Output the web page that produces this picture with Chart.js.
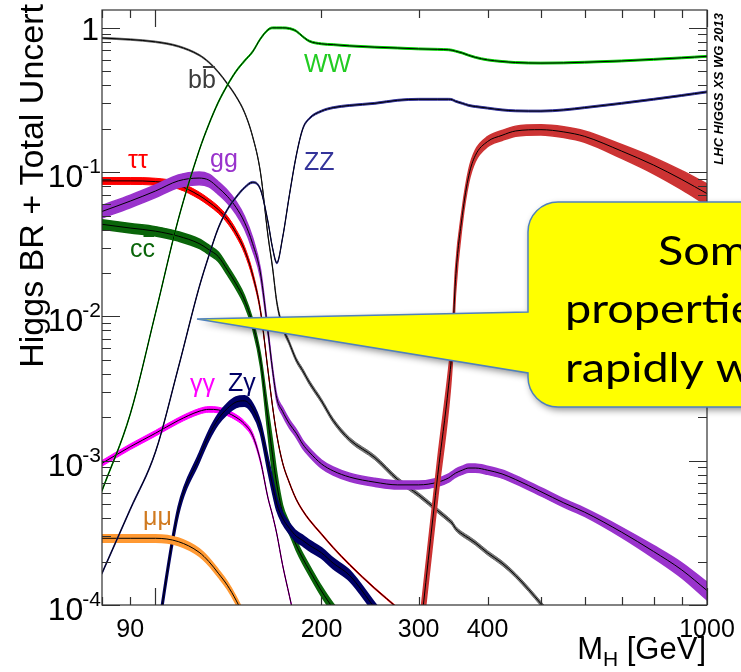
<!DOCTYPE html>
<html><head><meta charset="utf-8">
<script src="https://cdn.jsdelivr.net/npm/chart.js@4.4.1/dist/chart.umd.min.js"></script>
<style>html,body{margin:0;padding:0;background:#fff;overflow:hidden}canvas{display:block}</style>
</head><body><canvas id="c" width="741" height="672"></canvas>
<script>
// Higgs mass grid [GeV]
const MH = [80,90,100,110,120,125,130,135,140,145,
            150,155,160,163,166,170,175,180,185,190,
            200,210,225,250,275,300,325,340,345,350,
            360,370,380,400,425,450,500,550,600,700,
            800,900,1000];

// Branching ratios (central values)
const BR_bb = [0.85,0.83,0.80,0.745,0.648,0.577,0.494,0.41,0.335,0.26,
  0.177,0.10,0.036,0.022,0.0125,0.0085,0.0065,0.0050,0.0042,0.0035,
  0.0026,0.0019,0.0014,0.00105,0.00074,0.00058,0.00045,0.00039,0.00037,0.00034,
  0.00031,0.00029,0.00027,0.00023,0.000195,0.00016,0.000102,0.000065,0.00004,null,
  null,null,null];
const BR_tautau = [0.087,0.087,0.086,0.081,0.069,0.062,0.055,0.047,0.038,0.029,
  0.0195,0.011,0.0042,0.0024,0.0015,0.00097,0.0007,0.00054,0.00045,0.00039,
  0.00031,0.00025,0.00019,0.00013,0.000095,0.00007,0.00005,null,null,null,
  null,null,null,null,null,null,null,null,null,null,
  null,null,null];
const BR_cc = [0.0435,0.041,0.039,0.036,0.032,0.029,0.026,0.021,0.0168,0.013,
  0.0089,0.005,0.0019,0.0011,0.00068,0.00044,0.00034,0.00026,0.00021,0.000175,
  0.000125,0.000095,0.00007,0.00005,null,null,null,null,null,null,
  null,null,null,null,null,null,null,null,null,null,
  null,null,null];
const BR_gg = [0.0534,0.063,0.074,0.087,0.091,0.088,0.078,0.068,0.057,0.045,
  0.032,0.020,0.0078,0.0043,0.0027,0.0022,0.0018,0.00155,0.0013,0.00115,
  0.00095,0.00085,0.00077,0.00071,0.00068,0.00068,0.00071,0.00076,0.00079,0.00082,
  0.00086,0.00089,0.00089,0.00086,0.00081,0.00074,0.00061,0.00051,0.00044,0.00032,
  0.000235,0.000175,0.000126];
const BR_gamgam = [0.00096,0.00125,0.00155,0.0019,0.0022,0.00227,0.00225,0.00215,0.002,0.0018,
  0.0015,0.001,0.00055,0.00042,0.00031,0.00019,0.000115,0.00007,0.00004,null,
  null,null,null,null,null,null,null,null,null,null,
  null,null,null,null,null,null,null,null,null,null,
  null,null,null];
const BR_Zgam = [null,null,0.00005,0.00045,0.00105,0.0015,0.00195,0.0023,0.00255,0.0026,
  0.0023,0.0017,0.00095,0.00068,0.0005,0.0004,0.00034,0.0003,0.00028,0.00026,
  0.00023,0.000195,0.00016,0.000095,0.00006,null,null,null,null,null,
  null,null,null,null,null,null,null,null,null,null,
  null,null,null];
const BR_mumu = [0.00029,0.00029,0.00029,0.000275,0.000232,0.0002,0.000166,0.000137,0.000108,0.000082,
  0.00006,null,null,null,null,null,null,null,null,null,
  null,null,null,null,null,null,null,null,null,null,
  null,null,null,null,null,null,null,null,null,null,
  null,null,null];
const BR_WW = [0.00062,0.0021,0.0105,0.047,0.141,0.215,0.305,0.40,0.50,0.59,
  0.683,0.84,0.97,1.0,1.0,1.0,0.99,0.95,0.87,0.81,
  0.775,0.765,0.75,0.735,0.725,0.715,0.71,0.705,0.70,0.69,
  0.67,0.645,0.625,0.60,0.585,0.575,0.57,0.572,0.578,0.59,
  0.605,0.62,0.635];
const BR_ZZ = [0.000166,0.00046,0.00115,0.0044,0.0159,0.0264,0.041,0.055,0.067,0.078,
  0.085,0.076,0.045,0.03,0.0235,0.035,0.07,0.13,0.2,0.235,
  0.265,0.28,0.29,0.30,0.315,0.32,0.32,0.32,0.318,0.31,
  0.30,0.29,0.285,0.278,0.27,0.266,0.265,0.27,0.28,0.30,
  0.32,0.34,0.36];
const BR_tt = [null,null,null,null,null,null,null,null,null,null,
  null,null,null,null,null,null,null,null,null,null,
  null,null,null,null,null,0.00005,0.0008,0.0033,0.006,0.018,
  0.05,0.095,0.13,0.163,0.18,0.193,0.197,0.19,0.177,0.14,
  0.112,0.089,0.071];

// Relative total uncertainties
const U_bb = [0.012,0.012,0.012,0.012,0.012,0.012,0.012,0.012,0.012,0.012,
  0.012,0.012,0.015,0.02,0.03,0.035,0.035,0.035,0.035,0.035,
  0.035,0.035,0.035,0.035,0.035,0.035,0.035,0.035,0.035,0.035,
  0.035,0.035,0.035,0.035,0.035,0.035,0.035,0.035,0.035,0.035,
  0.035,0.035,0.035];
const U_tautau = [0.055,0.055,0.055,0.055,0.055,0.055,0.055,0.055,0.055,0.055,
  0.05,0.03,0.012,0.012,0.012,0.012,0.012,0.012,0.012,0.012,
  0.012,0.012,0.012,0.012,0.012,0.012,0.012,0.012,0.012,0.012,
  0.012,0.012,0.012,0.012,0.012,0.012,0.012,0.012,0.012,0.012,
  0.012,0.012,0.012];
const U_cc = [0.075,0.075,0.075,0.075,0.075,0.075,0.075,0.075,0.075,0.075,
  0.075,0.1,0.2,0.25,0.2,0.12,0.09,0.08,0.08,0.08,
  0.08,0.08,0.08,0.08,0.08,0.08,0.08,0.08,0.08,0.08,
  0.08,0.08,0.08,0.08,0.08,0.08,0.08,0.08,0.08,0.08,
  0.08,0.08,0.08];
const U_gg = [0.10,0.10,0.10,0.10,0.10,0.10,0.10,0.10,0.10,0.10,
  0.10,0.07,0.03,0.03,0.05,0.065,0.065,0.065,0.065,0.065,
  0.065,0.065,0.065,0.065,0.065,0.065,0.065,0.065,0.065,0.065,
  0.065,0.065,0.065,0.065,0.065,0.065,0.065,0.065,0.065,0.08,
  0.10,0.12,0.14];
const U_gamgam = [0.045,0.045,0.045,0.045,0.045,0.045,0.045,0.045,0.045,0.045,
  0.045,0.03,0.012,0.012,0.012,0.012,0.012,0.012,0.012,0.012,
  0.012,0.012,0.012,0.012,0.012,0.012,0.012,0.012,0.012,0.012,
  0.012,0.012,0.012,0.012,0.012,0.012,0.012,0.012,0.012,0.012,
  0.012,0.012,0.012];
const U_Zgam = [0.06,0.06,0.06,0.06,0.065,0.07,0.075,0.08,0.08,0.08,
  0.08,0.08,0.1,0.1,0.09,0.08,0.08,0.08,0.08,0.08,
  0.08,0.08,0.08,0.08,0.08,0.08,0.08,0.08,0.08,0.08,
  0.08,0.08,0.08,0.08,0.08,0.08,0.08,0.08,0.08,0.08,
  0.08,0.08,0.08];
const U_mumu = [0.06,0.06,0.06,0.06,0.06,0.06,0.06,0.06,0.06,0.06,
  0.06,0.06,0.06,0.06,0.06,0.06,0.06,0.06,0.06,0.06,
  0.06,0.06,0.06,0.06,0.06,0.06,0.06,0.06,0.06,0.06,
  0.06,0.06,0.06,0.06,0.06,0.06,0.06,0.06,0.06,0.06,
  0.06,0.06,0.06];
const U_WW = [0.015,0.015,0.015,0.015,0.015,0.015,0.015,0.015,0.015,0.015,
  0.015,0.015,0.015,0.015,0.015,0.015,0.015,0.015,0.015,0.015,
  0.015,0.015,0.015,0.015,0.015,0.015,0.015,0.015,0.015,0.015,
  0.015,0.015,0.015,0.015,0.015,0.015,0.015,0.015,0.015,0.015,
  0.015,0.015,0.015];
const U_ZZ = U_WW;
const U_tt = [null,null,null,null,null,null,null,null,null,null,
  null,null,null,null,null,null,null,null,null,null,
  null,null,null,null,null,0.3,0.3,0.3,0.25,0.2,
  0.12,0.1,0.09,0.08,0.08,0.08,0.08,0.085,0.09,0.11,
  0.13,0.15,0.17];

// Axis ticks and labels
const X_MAJOR = [100, 1000];
const X_MINOR = [80, 90, 200, 300, 400, 500, 600, 700, 800, 900];
const X_LABELS = [90, 200, 300, 400, 1000];
const Y_DECADES = [-4, -3, -2, -1, 0];

// Callout text lines
const NOTE_LINES = ['Some', 'properties', 'rapidly with'];

// Channel styles, listed from back to front
const CHANNELS = [
  {br: BR_bb,     u: U_bb,     band: '#6e6e6e', edge: 1},
  {br: BR_tautau, u: U_tautau, band: '#ff0000', edge: 1},
  {br: BR_cc,     u: U_cc,     band: '#0a650a', edge: 1.5},
  {br: BR_gg,     u: U_gg,     band: '#9933cc', edge: 1.5},
  {br: BR_gamgam, u: U_gamgam, band: '#ff00ff', edge: 1},
  {br: BR_Zgam,   u: U_Zgam,   band: '#000066', edge: 2},
  {br: BR_mumu,   u: U_mumu,   band: '#ff9933', edge: 1.5},
  {br: BR_tt,     u: U_tt,     band: '#cc3333', edge: 1.5},
  {br: BR_WW,     u: U_WW,     band: '#00cc00', edge: 1},
  {br: BR_ZZ,     u: U_ZZ,     band: '#333399', edge: 1}
];

const pts = (arr, f) => MH.map((m, i) => ({x: m, y: arr[i] == null ? null : arr[i] * f(i)}));
const datasets = [];
CHANNELS.forEach(c => {
  const common = {pointRadius: 0, cubicInterpolationMode: 'monotone', clip: 0, spanGaps: false};
  datasets.push(Object.assign({data: pts(c.br, i => 1 - c.u[i]), borderColor: c.band, borderWidth: c.edge, fill: false}, common));
  datasets.push(Object.assign({data: pts(c.br, i => 1 + c.u[i]), borderColor: c.band, borderWidth: c.edge, backgroundColor: c.band, fill: '-1'}, common));
  datasets.push(Object.assign({data: pts(c.br, () => 1), borderColor: '#000', borderWidth: 1, fill: false}, common));
});
const N = datasets.length;
datasets.forEach((d, i) => { d.order = N - i; });

const AX = '#303030';
const LABEL_FONT = 'Liberation Sans, Arial, sans-serif';

function sup(ctx, xr, yc, exp) {
  ctx.textAlign = 'left';
  ctx.textBaseline = 'alphabetic';
  ctx.font = '21px ' + LABEL_FONT;
  const ws = ctx.measureText(exp).width;
  ctx.fillText(exp, xr - ws, yc + 1);
  ctx.font = '32px ' + LABEL_FONT;
  const wb = ctx.measureText('10').width;
  ctx.fillText('10', xr - ws - wb + 1, yc + 15);
}

function barText(ctx, text, x, y, barIdx) {
  ctx.fillText(text, x, y);
  let x0 = x;
  for (let i = 0; i < barIdx; i++) x0 += ctx.measureText(text[i]).width;
  const w = ctx.measureText(text[barIdx]).width;
  ctx.fillRect(x0 + 1, y - 22, w - 2, 2);
}

const decor = {
  id: 'decor',
  afterDatasetsDraw(chart) {
    const {ctx, chartArea: a, scales: {x, y}} = chart;
    ctx.save();
    // frame
    ctx.strokeStyle = AX; ctx.lineWidth = 1.2;
    ctx.strokeRect(a.left, a.top, a.right - a.left, a.bottom - a.top);
    ctx.beginPath();
    const xt = (v, L) => {
      const p = Math.round(x.getPixelForValue(v)) + 0.5;
      ctx.moveTo(p, a.bottom); ctx.lineTo(p, a.bottom - L);
      ctx.moveTo(p, a.top); ctx.lineTo(p, a.top + L);
    };
    X_MAJOR.forEach(v => xt(v, 17));
    X_MINOR.forEach(v => xt(v, 8));
    const yt = (v, L) => {
      const p = Math.round(y.getPixelForValue(v)) + 0.5;
      if (p < a.top || p > a.bottom + 1) return;
      ctx.moveTo(a.left, p); ctx.lineTo(a.left + L, p);
      ctx.moveTo(a.right, p); ctx.lineTo(a.right - L, p);
    };
    Y_DECADES.forEach(e => {
      yt(Math.pow(10, e), 18);
      for (let k = 2; k <= 9; k++) yt(k * Math.pow(10, e), 9);
    });
    ctx.stroke();

    // tick labels
    ctx.fillStyle = '#000';
    ctx.font = '25px ' + LABEL_FONT;
    ctx.textAlign = 'center'; ctx.textBaseline = 'alphabetic';
    X_LABELS.forEach(v => ctx.fillText(String(v), x.getPixelForValue(v), 637));
    Y_DECADES.forEach(e => {
      const p = y.getPixelForValue(Math.pow(10, e));
      if (e === 0) {
        ctx.font = '32px ' + LABEL_FONT; ctx.textAlign = 'right';
        ctx.fillText('1', 99, p + 12);
      } else {
        sup(ctx, 101, p, '-' + (-e));
      }
    });

    // axis titles
    ctx.font = '34px ' + LABEL_FONT;
    ctx.save(); ctx.translate(43, 4); ctx.rotate(-Math.PI / 2);
    ctx.textAlign = 'right'; ctx.fillText('Higgs BR + Total Uncert', 0, 0);
    ctx.restore();
    ctx.textAlign = 'left';
    const big = '31px ' + LABEL_FONT, small = '21px ' + LABEL_FONT;
    ctx.font = big;
    const t1 = 'M', t3 = ' [GeV]';
    const w1 = ctx.measureText(t1).width, w3 = ctx.measureText(t3).width;
    ctx.font = small;
    const w2 = ctx.measureText('H').width;
    const xs = 706 - w1 - w2 - w3;
    ctx.font = big; ctx.fillText(t1, xs, 659);
    ctx.font = small; ctx.fillText('H', xs + w1, 666);
    ctx.font = big; ctx.fillText(t3, xs + w1 + w2, 659);

    // working group tag
    ctx.save(); ctx.translate(723, 13); ctx.rotate(-Math.PI / 2);
    ctx.font = 'italic bold 13px ' + LABEL_FONT; ctx.textAlign = 'right';
    ctx.fillText('LHC HIGGS XS WG 2013', 0, 0);
    ctx.restore();

    // channel labels
    ctx.textAlign = 'left';
    ctx.font = '25px ' + LABEL_FONT;
    ctx.fillStyle = '#3c3c3c'; barText(ctx, 'bb', 188, 88, 1);
    ctx.fillStyle = '#22cc22'; ctx.fillText('WW', 304, 72);
    ctx.fillStyle = '#333399'; ctx.fillText('ZZ', 304, 170);
    ctx.fillStyle = '#ff0000'; ctx.fillText('\u03c4\u03c4', 128, 168);
    ctx.fillStyle = '#9933cc'; ctx.fillText('gg', 210, 167);
    ctx.fillStyle = '#0a650a'; barText(ctx, 'cc', 130, 257, 1);
    ctx.fillStyle = '#ff00ff'; ctx.fillText('\u03b3\u03b3', 190, 392);
    ctx.fillStyle = '#000066'; ctx.fillText('Z\u03b3', 228, 391);
    ctx.fillStyle = '#d07a20'; ctx.fillText('\u03bc\u03bc', 143, 525);
    ctx.restore();
  },
  afterDraw(chart) {
    const ctx = chart.ctx;
    ctx.save();
    // callout bubble
    const L = 528, T = 202, B = 407, R = 800, r = 30;
    ctx.beginPath();
    ctx.moveTo(197, 319);
    ctx.lineTo(L, 312);
    ctx.lineTo(L, T + r);
    ctx.arcTo(L, T, L + r, T, r);
    ctx.lineTo(R, T);
    ctx.lineTo(R, B);
    ctx.lineTo(L + r, B);
    ctx.arcTo(L, B, L, B - r, r);
    ctx.lineTo(L, 373);
    ctx.closePath();
    ctx.shadowColor = 'rgba(0,0,0,0.45)'; ctx.shadowBlur = 7;
    ctx.shadowOffsetX = 2; ctx.shadowOffsetY = 3;
    ctx.fillStyle = '#ffff00'; ctx.fill();
    ctx.shadowColor = 'rgba(0,0,0,0)';
    ctx.strokeStyle = '#4f81bd'; ctx.lineWidth = 1.5; ctx.stroke();
    ctx.fillStyle = '#000';
    ctx.font = '40px Lato, "Open Sans", sans-serif';
    ctx.textAlign = 'left'; ctx.textBaseline = 'alphabetic';
    const rows = [[658, 265], [565, 323], [565, 382]];
    NOTE_LINES.forEach((s, i) => {
      ctx.save();
      ctx.translate(rows[i][0], rows[i][1]);
      ctx.scale(1.17, 1);
      ctx.fillText(s, 0, 0);
      ctx.restore();
    });
    ctx.restore();
  }
};

new Chart(document.getElementById('c'), {
  type: 'line',
  data: {datasets},
  options: {
    responsive: false,
    devicePixelRatio: 1,
    animation: false,
    layout: {padding: {left: 102, right: 34, top: 10, bottom: 67}},
    plugins: {legend: {display: false}, tooltip: {enabled: false}},
    elements: {line: {borderCapStyle: 'round', borderJoinStyle: 'round'}},
    scales: {
      x: {type: 'logarithmic', min: 80, max: 1000, display: false},
      y: {type: 'logarithmic', min: 1e-4, max: 1.33, display: false}
    }
  },
  plugins: [decor]
});
</script>
</body></html>
